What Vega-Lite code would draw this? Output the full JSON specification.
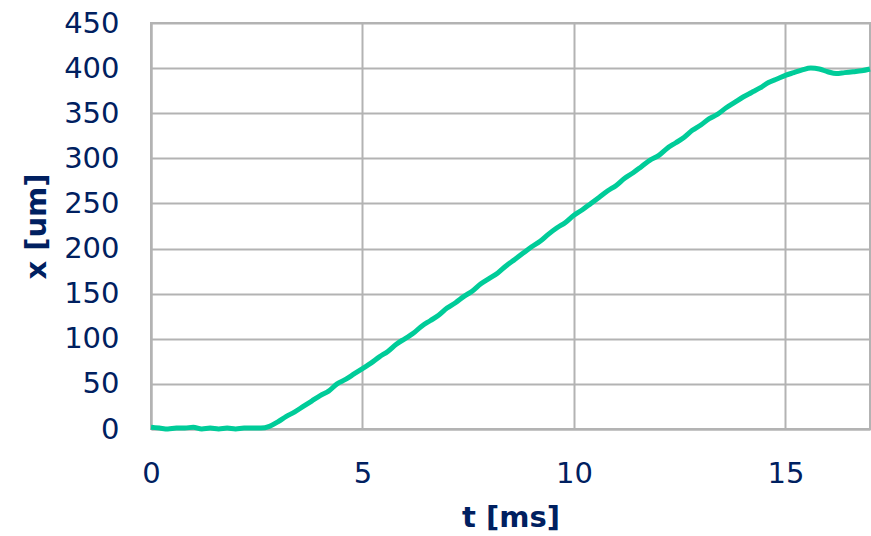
{
  "$schema": "https://vega.github.io/schema/vega-lite/v6.json",
  "autosize": "none",
  "width": 719,
  "height": 406,
  "padding": {"left": 151, "top": 23, "right": 1, "bottom": 107},
  "background": "white",
  "config": {
    "view": {"stroke": "#b3b3b3", "strokeWidth": 2},
    "font": "DejaVu Sans"
  },
  "data": {"values": [
    {"t":0,"x":2},{"t":0.2,"x":1},{"t":0.4,"x":0},{"t":0.6,"x":1},{"t":0.8,"x":1},{"t":1.0,"x":2},{"t":1.2,"x":0},{"t":1.4,"x":1},{"t":1.6,"x":0},{"t":1.8,"x":1},{"t":2.0,"x":0},{"t":2.2,"x":1},{"t":2.4,"x":1},{"t":2.6,"x":1},{"t":2.8,"x":3},{"t":3.0,"x":8},{"t":3.2,"x":14},{"t":3.4,"x":19},{"t":3.6,"x":25},{"t":3.8,"x":31},{"t":4.0,"x":37},{"t":4.2,"x":42},{"t":4.4,"x":50},{"t":4.6,"x":55},{"t":4.8,"x":61},{"t":5.0,"x":67},{"t":5.2,"x":73},{"t":5.4,"x":80},{"t":5.6,"x":86},{"t":5.8,"x":94},{"t":6.0,"x":100},{"t":6.2,"x":106},{"t":6.4,"x":114},{"t":6.6,"x":120},{"t":6.8,"x":126},{"t":7.0,"x":134},{"t":7.2,"x":140},{"t":7.4,"x":147},{"t":7.6,"x":153},{"t":7.8,"x":161},{"t":8.0,"x":167},{"t":8.2,"x":173},{"t":8.4,"x":181},{"t":8.6,"x":188},{"t":8.8,"x":195},{"t":9.0,"x":202},{"t":9.2,"x":208},{"t":9.4,"x":216},{"t":9.6,"x":223},{"t":9.8,"x":229},{"t":10.0,"x":237},{"t":10.2,"x":243},{"t":10.4,"x":250},{"t":10.6,"x":257},{"t":10.8,"x":264},{"t":11.0,"x":270},{"t":11.2,"x":278},{"t":11.4,"x":284},{"t":11.6,"x":291},{"t":11.8,"x":298},{"t":12.0,"x":303},{"t":12.2,"x":311},{"t":12.4,"x":317},{"t":12.6,"x":323},{"t":12.8,"x":331},{"t":13.0,"x":337},{"t":13.2,"x":344},{"t":13.4,"x":349},{"t":13.6,"x":356},{"t":13.8,"x":362},{"t":14.0,"x":368},{"t":14.2,"x":373},{"t":14.4,"x":378},{"t":14.6,"x":384},{"t":14.8,"x":388},{"t":15.0,"x":392},{"t":15.2,"x":395},{"t":15.4,"x":398},{"t":15.6,"x":400},{"t":15.8,"x":399},{"t":16.0,"x":396},{"t":16.2,"x":394},{"t":16.4,"x":395},{"t":16.6,"x":396},{"t":16.8,"x":397},{"t":17.0,"x":399}
  ]},
  "mark": {"type": "line", "color": "#00cc99", "strokeWidth": 5, "interpolate": "monotone"},
  "encoding": {
    "x": {
      "field": "t", "type": "quantitative",
      "scale": {"domain": [0, 17], "nice": false, "zero": false},
      "axis": {
        "title": "t [ms]", "values": [0, 5, 10, 15],
        "grid": true, "gridColor": "#b3b3b3", "gridWidth": 2,
        "domain": true, "domainColor": "#b3b3b3", "domainWidth": 2,
        "ticks": false, "labelPadding": 30, "labelFlush": false,
        "labelFontSize": 29, "labelColor": "#002060", "labelFont": "DejaVu Sans",
        "titleFontSize": 29, "titleColor": "#002060", "titleFont": "DejaVu Sans",
        "titleFontWeight": "bold", "titlePadding": 15
      }
    },
    "y": {
      "field": "x", "type": "quantitative",
      "scale": {"domain": [0, 450], "nice": false},
      "axis": {
        "title": "x  [um]", "values": [0, 50, 100, 150, 200, 250, 300, 350, 400, 450],
        "grid": true, "gridColor": "#b3b3b3", "gridWidth": 2,
        "domain": true, "domainColor": "#b3b3b3", "domainWidth": 2,
        "ticks": false, "labelPadding": 32, "labelFlush": false,
        "labelFontSize": 29, "labelColor": "#002060", "labelFont": "DejaVu Sans",
        "titleFontSize": 29, "titleColor": "#002060", "titleFont": "DejaVu Sans",
        "titleFontWeight": "bold", "titlePadding": 12
      }
    }
  }
}
